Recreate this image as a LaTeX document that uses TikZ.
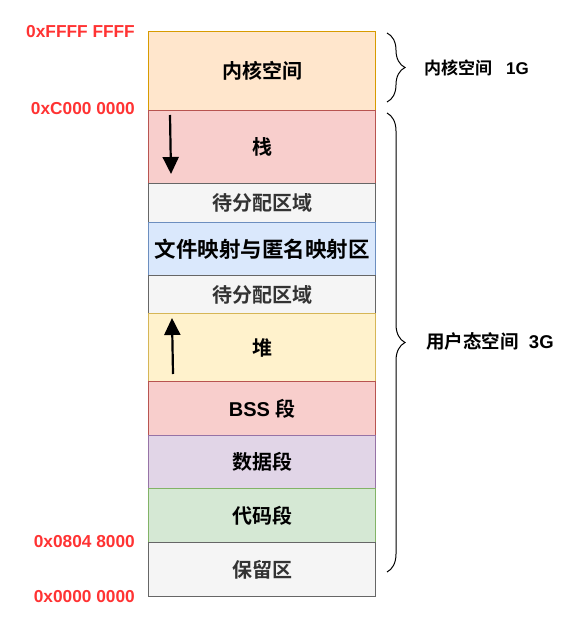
\documentclass[tikz,border=0pt]{standalone}
\usepackage{fontspec}
\setmainfont{Liberation Sans}
\newfontfamily\cjk{Noto Sans CJK SC}[BoldFont={Noto Sans CJK SC Bold}]
\usetikzlibrary{arrows.meta,decorations.pathreplacing}
\definecolor{redtxt}{HTML}{FF3333}
\definecolor{kfill}{HTML}{FFE6CC}\definecolor{kline}{HTML}{D79B00}
\definecolor{rfill}{HTML}{F8CECC}\definecolor{rline}{HTML}{B85450}
\definecolor{gfill}{HTML}{F5F5F5}\definecolor{gline}{HTML}{666666}
\definecolor{bfill}{HTML}{DAE8FC}\definecolor{bline}{HTML}{6C8EBF}
\definecolor{yfill}{HTML}{FFF2CC}\definecolor{yline}{HTML}{D6B656}
\definecolor{pfill}{HTML}{E1D5E7}\definecolor{pline}{HTML}{9673A6}
\definecolor{nfill}{HTML}{D5E8D4}\definecolor{nline}{HTML}{82B366}
\begin{document}
\begin{tikzpicture}[x=1pt,y=-1pt,
  seg/.style={draw, line width=1.3pt, rectangle, anchor=north west, minimum width=227pt, inner sep=0pt,
     font=\fontsize{20}{23}\selectfont\bfseries\cjk},
  addr/.style={anchor=east, text=redtxt, inner sep=0pt, font=\fontsize{17.3}{20}\selectfont\bfseries},
  side/.style={anchor=west, inner sep=0pt, font=\fontsize{17}{20}\selectfont\bfseries},
  growarrow/.style={line width=2.2pt, -{Triangle[length=17pt,width=16pt]}},
  brc/.style={draw, line width=1pt, decorate, decoration={brace, amplitude=18pt}}]
\useasboundingbox (0,0) rectangle (570,617);
\node[seg, fill=kfill, draw=kline, minimum height=79pt] (kern) at (148,31) {内核空间};
\node[seg, fill=rfill, draw=rline, minimum height=73pt] (stack) at (148,110) {栈};
\node[seg, fill=gfill, draw=gline, minimum height=39pt, text=black!80] (free1) at (148,183) {待分配区域};
\node[seg, fill=bfill, draw=bline, minimum height=53pt, font=\fontsize{21.5}{24}\selectfont\bfseries\cjk] (mmap) at (148,222) {文件映射与匿名映射区};
\node[seg, fill=gfill, draw=gline, minimum height=38pt, text=black!80] (free2) at (148,275) {待分配区域};
\node[seg, fill=yfill, draw=yline, minimum height=68pt] (heap) at (148,313) {堆};
\node[seg, fill=rfill, draw=rline, minimum height=54pt] (bss) at (148,381) {{\rmfamily BSS }段};
\node[seg, fill=pfill, draw=pline, minimum height=53pt] (data) at (148,435) {数据段};
\node[seg, fill=nfill, draw=nline, minimum height=54pt] (text) at (148,488) {代码段};
\node[seg, fill=gfill, draw=gline, minimum height=54pt, text=black!80] (resv) at (148,542) {保留区};
% growth arrows
\coordinate (s1) at (170,115); \coordinate (s2) at (171,174);
\draw[growarrow] (s1) -- (s2);
\coordinate (h1) at (173,374); \coordinate (h2) at (172,318);
\draw[growarrow] (h1) -- (h2);
% addresses
\node[addr] (a1) at (135,32) {0xFFFF FFFF};
\node[addr] (a2) at (135,109) {0xC000 0000};
\node[addr] (a3) at (135,542) {0x0804 8000};
\node[addr] (a4) at (135,597) {0x0000 0000};
% braces
\coordinate (b1t) at (387,33); \coordinate (b1b) at (387,102);
\draw[brc] (b1t) -- (b1b);
\coordinate (b2t) at (387,113); \coordinate (b2b) at (387,572);
\draw[brc] (b2t) -- (b2b);
\node[side] (l1) at (424,68) {{\cjk 内核空间}\hspace{14pt}1G};
\node[side, font=\fontsize{18.5}{21}\selectfont\bfseries] (l2) at (426,341) {{\cjk 用户态空间}\ \ 3G};
\end{tikzpicture}
\end{document}
